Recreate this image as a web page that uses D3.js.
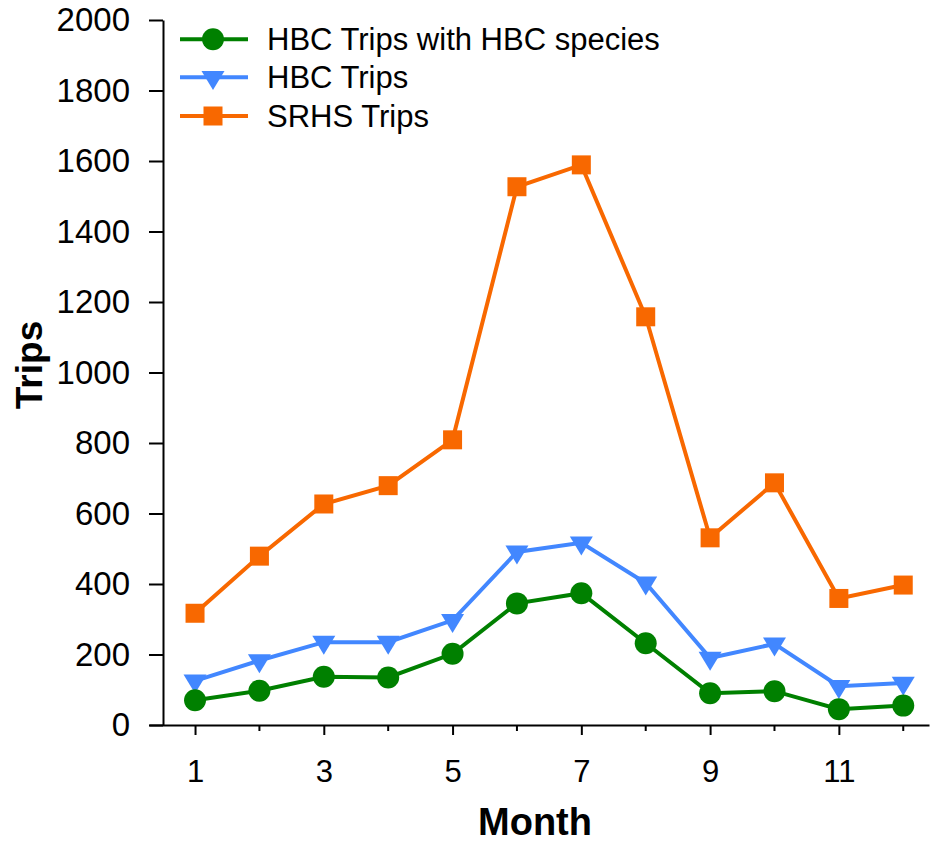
<!DOCTYPE html>
<html>
<head>
<meta charset="utf-8">
<script src="https://cdn.jsdelivr.net/npm/d3@7"></script>
<style>
  html, body { margin: 0; padding: 0; background: #fff; }
  svg { display: block; font-family: "Liberation Sans", Arial, sans-serif; }
</style>
</head>
<body>
<svg id="chart" width="931" height="843"></svg>
<script>
const months = [1, 2, 3, 4, 5, 6, 7, 8, 9, 10, 11, 12];
const hbcSpecies = [70, 97, 137, 135, 202, 345, 374, 232, 90, 96, 45, 55];
const hbcTrips = [125, 183, 235, 235, 297, 491, 517, 403, 190, 230, 110, 119];
const srhsTrips = [317, 479, 627, 679, 809, 1527, 1589, 1158, 531, 687, 359, 397];
const yTicks = [0, 200, 400, 600, 800, 1000, 1200, 1400, 1600, 1800, 2000];
const xMajorTicks = [1, 3, 5, 7, 9, 11];
const xMinorTicks = [2, 4, 6, 8, 10, 12];
const seriesNames = ["HBC Trips with HBC species", "HBC Trips", "SRHS Trips"];

const colors = { green: "#008000", blue: "#4287ff", orange: "#f86800" };
const series = [
  { name: seriesNames[0], values: hbcSpecies, color: colors.green, marker: "circle" },
  { name: seriesNames[1], values: hbcTrips, color: colors.blue, marker: "triangle" },
  { name: seriesNames[2], values: srhsTrips, color: colors.orange, marker: "square" }
];

const svg = d3.select("#chart");
const x = d3.scaleLinear().domain([0.285, 12.4]).range([149, 929]);
const y = d3.scaleLinear().domain([0, 2000]).range([725, 20]);
const yAxisX = 163;

// Y axis
const yAxis = svg.append("g")
  .attr("transform", `translate(${yAxisX},0)`)
  .call(d3.axisLeft(y).tickValues(yTicks).tickSize(14).tickSizeOuter(0).tickPadding(19).tickFormat(d3.format("d")));
yAxis.selectAll("path, line").attr("stroke", "#000").attr("stroke-width", 2);
yAxis.selectAll("text").attr("font-size", 33).attr("fill", "#000")
  .attr("font-family", "'Liberation Sans', Arial, sans-serif");

// X axis
const xAxis = svg.append("g")
  .attr("transform", `translate(0,${y(0)})`)
  .call(d3.axisBottom(x).tickValues(xMajorTicks).tickSize(10).tickSizeOuter(0).tickPadding(25).tickFormat(d3.format("d")));
xAxis.selectAll("path, line").attr("stroke", "#000").attr("stroke-width", 2);
xAxis.selectAll("text").attr("font-size", 31).attr("fill", "#000")
  .attr("font-family", "'Liberation Sans', Arial, sans-serif");
svg.append("g").selectAll("line").data(xMinorTicks).join("line")
  .attr("x1", d => x(d)).attr("x2", d => x(d))
  .attr("y1", y(0)).attr("y2", y(0) + 6)
  .attr("stroke", "#000").attr("stroke-width", 2);

// Axis titles
svg.append("text")
  .attr("x", 535).attr("y", 835)
  .attr("text-anchor", "middle")
  .attr("font-size", 38).attr("font-weight", "bold")
  .text("Month");
svg.append("text")
  .attr("transform", "translate(42,365) rotate(-90)")
  .attr("text-anchor", "middle")
  .attr("font-size", 37).attr("font-weight", "bold")
  .text("Trips");

function drawMarker(g, type, color) {
  if (type === "circle") {
    g.append("circle").attr("r", 11).attr("fill", color);
  } else if (type === "square") {
    g.append("rect").attr("x", -9.5).attr("y", -9.5).attr("width", 19).attr("height", 19).attr("fill", color);
  } else {
    const w = 23, h = 19;
    g.append("path").attr("d", `M${-w/2},${-h/3}L${w/2},${-h/3}L0,${2*h/3}Z`).attr("fill", color);
  }
}

const line = d3.line().x((d, i) => x(months[i])).y(d => y(d));

// draw in order: orange, blue, green (green on top)
[series[2], series[1], series[0]].forEach(s => {
  svg.append("path")
    .datum(s.values)
    .attr("d", line)
    .attr("fill", "none")
    .attr("stroke", s.color)
    .attr("stroke-width", 4)
    .attr("stroke-linejoin", "miter");
  s.values.forEach((v, i) => {
    const g = svg.append("g").attr("transform", `translate(${x(months[i])},${y(v)})`);
    drawMarker(g, s.marker, s.color);
  });
});

// Legend
const legendY = [39.3, 77.3, 116];
series.forEach((s, i) => {
  const ly = legendY[i];
  svg.append("line").attr("x1", 180).attr("x2", 248).attr("y1", ly).attr("y2", ly)
    .attr("stroke", s.color).attr("stroke-width", 4);
  const g = svg.append("g").attr("transform", `translate(213,${ly})`);
  drawMarker(g, s.marker, s.color);
  svg.append("text").attr("x", 267).attr("y", ly + 11)
    .attr("font-size", 31).attr("fill", "#000")
    .text(s.name);
});
</script>
</body>
</html>
